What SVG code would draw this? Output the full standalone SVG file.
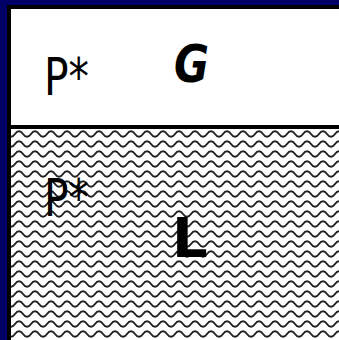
<svg xmlns="http://www.w3.org/2000/svg" width="339" height="340" viewBox="0 0 339 340">
<style>
.lbl{font-family:"Comic Sans MS","DejaVu Sans",sans-serif;fill:#000}
.big{font-weight:bold}
</style>
<defs>
<pattern id="wave" x="11" y="129" width="16" height="10" patternUnits="userSpaceOnUse">
<path d="M0,7.8 C4.2,7.8 3.8,2.2 8,2.2 C12.2,2.2 11.8,7.8 16,7.8" fill="none" stroke="#222" stroke-width="1.9"/>
</pattern>
</defs>
<rect x="0" y="0" width="339" height="340" fill="#000066"/>
<rect x="7" y="5" width="332" height="335" fill="#000"/>
<g id="gas">
<rect x="11" y="9" width="328" height="116" fill="#fff"/>
<text class="lbl" x="44" y="95" font-size="52" textLength="45" lengthAdjust="spacingAndGlyphs">P*</text>
<text class="lbl big" x="174" y="82" font-size="52" font-style="italic" textLength="35" lengthAdjust="spacingAndGlyphs">G</text>
</g>
<g id="liquid">
<rect x="11" y="129" width="328" height="211" fill="#fff"/>
<rect x="11" y="129" width="328" height="211" fill="url(#wave)"/>
<text class="lbl" x="44" y="216" font-size="52" textLength="45" lengthAdjust="spacingAndGlyphs">P*</text>
<text class="lbl big" x="172" y="257" font-size="56">L</text>
</g>
</svg>
